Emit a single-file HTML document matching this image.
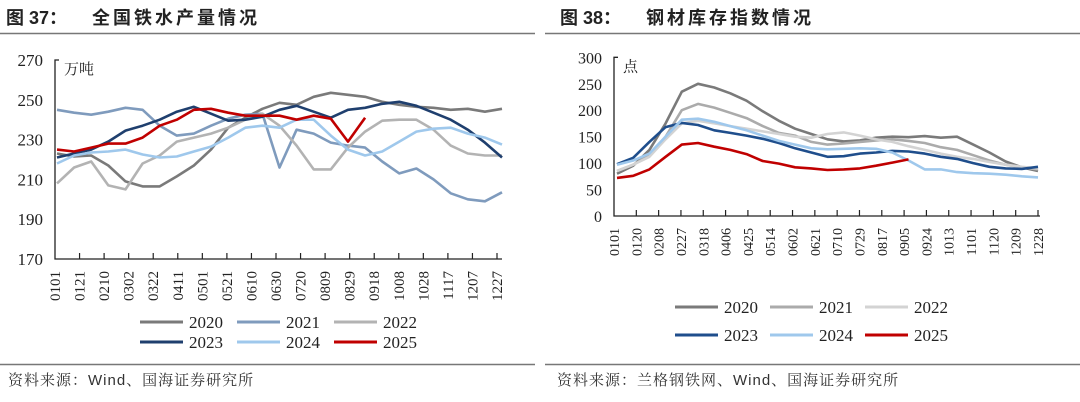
<!DOCTYPE html>
<html><head><meta charset="utf-8"><style>
body{margin:0;background:#fff;width:1080px;height:402px;overflow:hidden}
svg{display:block}
.t{font-family:"Liberation Sans","Noto Sans CJK SC",sans-serif;font-weight:bold;font-size:18px;fill:#222}
.f{font-family:"Liberation Sans","Noto Serif CJK SC",serif;font-size:15px;fill:#333;letter-spacing:1px}
.s{font-family:"Liberation Serif","Noto Serif CJK SC",serif;fill:#222}
</style></head><body>
<svg id="svg" width="1080" height="402">
<text class="t" x="6" y="24">图 37：<tspan x="92" letter-spacing="3">全国铁水产量情况</tspan></text>
<text class="t" x="560" y="24">图 38：<tspan x="646" letter-spacing="3">钢材库存指数情况</tspan></text>
<line x1="0" y1="33.5" x2="535" y2="33.5" stroke="#777" stroke-width="1.5"/>
<line x1="545" y1="33.5" x2="1080" y2="33.5" stroke="#777" stroke-width="1.5"/>
<line x1="0" y1="364.5" x2="535" y2="364.5" stroke="#777" stroke-width="1.5"/>
<line x1="545" y1="364.5" x2="1080" y2="364.5" stroke="#777" stroke-width="1.5"/>
<text class="f" x="8" y="385">资料来源：Wind、国海证券研究所</text>
<text class="f" x="557" y="385">资料来源：兰格钢铁网、Wind、国海证券研究所</text>
<g id="left"></g>
<g id="right"></g>
</svg>
<script>
const colors=["#7a7a7a","#7f9bbd","#b3b3b3","#1f3f6e","#9fc8ec","#c00000"];
const colorsR=["#7a7a7a","#ababab","#d3d3d3","#1f4e8c","#9fc8ec","#c00000"];
const years=["2020","2021","2022","2023","2024","2025"];
const leftTicks=["0101","0121","0210","0302","0322","0411","0501","0521","0610","0630","0720","0809","0829","0918","1008","1028","1117","1207","1227"];
const leftY=[170,190,210,230,250,270];
const left2020=[223,221.5,222,217,209,206.5,206.5,211.5,217,225,236,241,245.5,248.5,247.5,251.5,253.5,252.5,251.5,249,247.5,246.5,246,245,245.5,244,245.5];
const left2021=[245,243.5,242.5,244,246,245,237,232,233,237,240.5,242.5,243,216,235,233,228.5,227,226,219,213,215.5,210,203,200,199,203.5];
const left2022=[208,216,219,207,205,218,222,229,231,233,236,240,243,237,227,215,215,226,234,239.5,240,240,235,227,223,222,222];
const left2023=[221,223,225,229,234.5,237,240,244,246.5,243,239.5,240,241.5,245,247,244,241,245,246,248,249,247,243.5,240,235,228.5,221];
const left2024=[218,222,223.5,224,225,222.5,221,221.5,224,226.5,231,236,237,236,240,240,232,225,222,224,229,234,235.5,236,233,231,227.5];
const left2025=[225,224,226,228,228,231,237,240,245,245.5,243.5,242,242,242,240,242,240.5,229,241];
const rightTicks=["0101","0120","0208","0227","0318","0406","0425","0514","0602","0621","0710","0729","0817","0905","0924","1013","1101","1120","1209","1228"];
const rightY=[0,50,100,150,200,250,300];
const right2020=[80,95,125,175,235,250,243,232,218,198,180,165,155,145,141,143,148,150,149,151,148,150,135,120,103,92,85];
const right2021=[85,97,115,150,200,212,205,195,185,170,157,152,140,135,137,140,143,145,142,138,130,125,115,105,97,92,88];
const right2022=[85,97,112,145,175,180,175,170,165,160,155,150,148,155,158,152,145,140,132,125,118,112,108,102,97,93,90];
const right2023=[98,110,140,168,176,172,162,157,152,146,138,128,120,112,113,118,120,123,122,118,112,108,100,93,90,89,93];
const right2024=[97,105,118,150,182,184,178,170,162,152,142,135,128,126,127,128,127,120,105,88,88,83,81,80,78,75,73];
const right2025=[72,76,88,112,135,138,131,125,117,104,99,92,90,87,88,90,95,101,107];
const NS="http://www.w3.org/2000/svg";
function mk(p,tag,attrs){const e=document.createElementNS(NS,tag);for(const k in attrs)e.setAttribute(k,attrs[k]);p.appendChild(e);return e;}
function chart(g,cfg){
  const yS=v=>cfg.y0+(v-cfg.ymin)/(cfg.ymax-cfg.ymin)*(cfg.y1-cfg.y0);
  const xS=i=>cfg.sx0+i*(cfg.sx1-cfg.sx0)/(cfg.npts-1);
  const tx=i=>cfg.x0+i*(cfg.x1-cfg.x0)/(cfg.ticks.length-1);
  const ax=mk(g,"path",{d:`M${cfg.x0+4},${cfg.y1} H${cfg.x0} V${cfg.y0} H${cfg.xEnd}`,fill:"none",stroke:"#222","stroke-width":1.3});
  
  
  cfg.yticks.forEach(v=>{
    const t=mk(g,"text",{x:cfg.x0-12,y:yS(v)+6,"text-anchor":"end","font-size":cfg.yfs,class:"s"});t.textContent=v;
    
    
  });
  cfg.ticks.forEach((lab,i)=>{
    const x=tx(i);
    if(i>0){const tk=mk(g,"line",{x1:x,x2:x,y1:cfg.y0,y2:cfg.y0-6,stroke:"#222","stroke-width":1.2});
      
      }
    const t=mk(g,"text",{x:0,y:0,"font-size":cfg.xfs,class:"s","text-anchor":"end",transform:`translate(${x+5},${cfg.y0+12}) rotate(-90)`});
    t.textContent=lab;
    
    
  });
  const u=mk(g,"text",{x:cfg.x0+9,y:cfg.y1+14,"font-size":15,class:"s"});u.textContent=cfg.unit;
  
  
  cfg.series.forEach((s,k)=>{
    const d=s.map((v,i)=>(i?"L":"M")+xS(i).toFixed(1)+","+yS(v).toFixed(1)).join(" ");
    const p=mk(g,"path",{d:d,fill:"none",stroke:cfg.colors[k],"stroke-width":2.6,"stroke-linejoin":"round"});
    
    
  });
  years.forEach((yr,k)=>{
    const r=Math.floor(k/3),c=k%3;
    const lx=cfg.lx+c*cfg.ldx, ly=cfg.ly+r*cfg.ldy;
    const l=mk(g,"line",{x1:lx,x2:lx+43,y1:ly,y2:ly,stroke:cfg.colors[k],"stroke-width":3});
    
    
    const t=mk(g,"text",{x:lx+49,y:ly+6,"font-size":17,class:"s"});t.textContent=yr;
    
    
  });
}
chart(document.getElementById("left"),{x0:55,x1:497,xEnd:502,y0:259,y1:60,ymin:170,ymax:270,sx0:57,sx1:502,npts:27,
  ticks:leftTicks,yticks:leftY,yfs:17,xfs:15,unit:"万吨",colors:colors,
  series:[left2020,left2021,left2022,left2023,left2024,left2025],lx:140,ly:322,ldx:97,ldy:20});
chart(document.getElementById("right"),{x0:614,x1:1038,xEnd:1040,y0:216,y1:57.3,ymin:0,ymax:300,sx0:617,sx1:1038,npts:27,
  ticks:rightTicks,yticks:rightY,yfs:16,xfs:14,unit:"点",colors:colorsR,
  series:[right2020,right2021,right2022,right2023,right2024,right2025],lx:675,ly:307,ldx:95,ldy:28});
</script>
</body></html>
